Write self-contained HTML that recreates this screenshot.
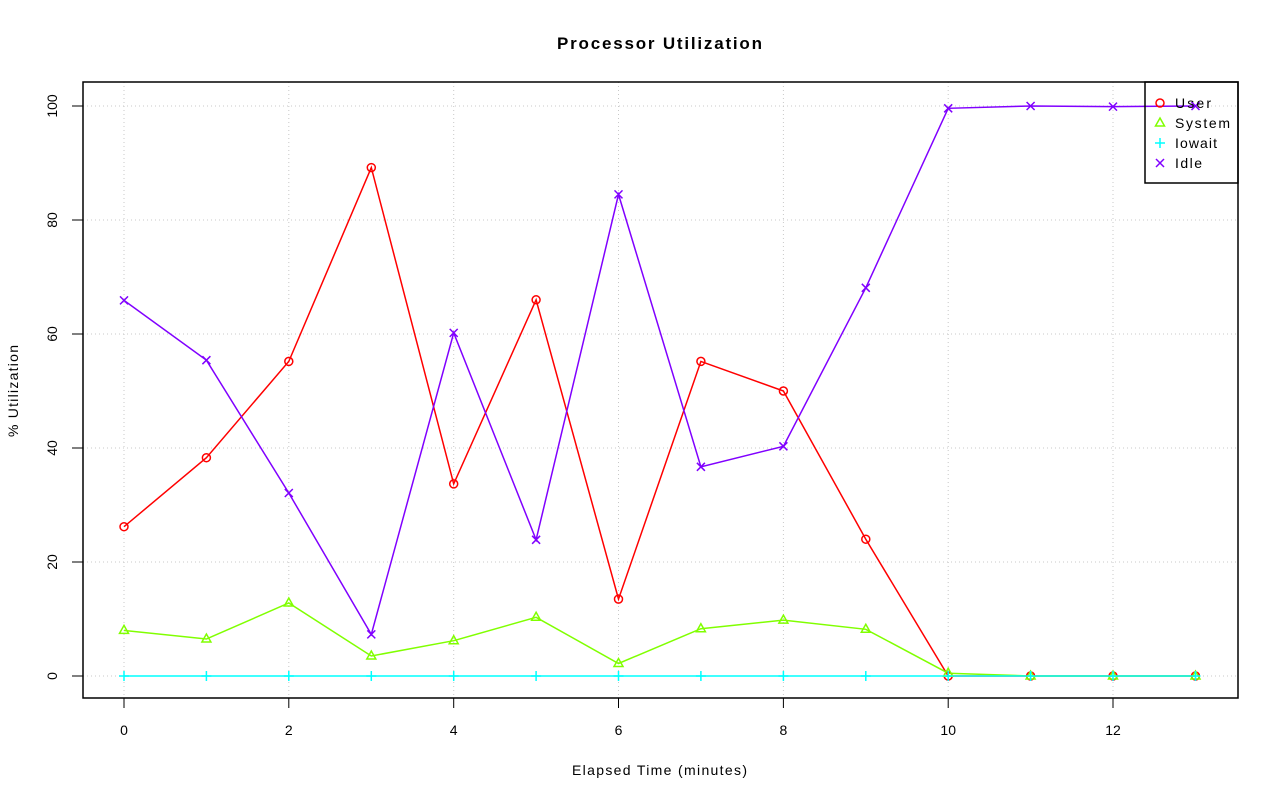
<!DOCTYPE html>
<html><head><meta charset="utf-8"><style>body{margin:0;background:#fff}svg{display:block}text{font-family:"Liberation Sans",sans-serif}</style></head>
<body>
<svg width="1280" height="801" viewBox="0 0 1280 801" xmlns="http://www.w3.org/2000/svg">
<defs>
<circle id="c" r="4" fill="none" stroke="#ff0000" stroke-width="1.5"/>
<path id="t" d="M0,-5 L4.5,3 L-4.5,3Z" fill="none" stroke="#80ff00" stroke-width="1.5"/>
<path id="p" d="M-5,0H5M0,-5V5" stroke="#00ffff" stroke-width="1.5"/>
<path id="x" d="M-4,-4L4,4M-4,4L4,-4" stroke="#8000ff" stroke-width="1.5"/>
</defs>
<text x="557" y="49" font-size="17" font-weight="bold" textLength="205" lengthAdjust="spacing">Processor Utilization</text>
<g stroke="#c8c8c8" stroke-dasharray="1,3" stroke-width="1">
<path d="M124,82V698M288.8,82V698M453.7,82V698M618.5,82V698M783.4,82V698M948.2,82V698M1113,82V698"/>
<path d="M83,676H1238M83,562H1238M83,448H1238M83,334H1238M83,220H1238M83,106H1238"/>
</g>
<g stroke="#000"><path d="M124,698V708M288.8,698V708M453.7,698V708M618.5,698V708M783.4,698V708M948.2,698V708M1113,698V708"/>
<path d="M83,676H72M83,562H72M83,448H72M83,334H72M83,220H72M83,106H72"/></g>
<g font-size="14" text-anchor="middle">
<text x="124" y="735">0</text><text x="288.8" y="735">2</text><text x="453.7" y="735">4</text><text x="618.5" y="735">6</text><text x="783.4" y="735">8</text><text x="948.2" y="735">10</text><text x="1113" y="735">12</text>
<text transform="translate(57,676) rotate(-90)">0</text>
<text transform="translate(57,562) rotate(-90)">20</text>
<text transform="translate(57,448) rotate(-90)">40</text>
<text transform="translate(57,334) rotate(-90)">60</text>
<text transform="translate(57,220) rotate(-90)">80</text>
<text transform="translate(57,106) rotate(-90)">100</text>
</g>
<g font-size="14">
<text x="572" y="775" textLength="175" lengthAdjust="spacing">Elapsed Time (minutes)</text>
<text transform="translate(18,437) rotate(-90)" textLength="92" lengthAdjust="spacing">% Utilization</text>
</g>
<g fill="none" stroke-width="1.5">
<polyline stroke="#ff0000" points="124,526.7 206.4,457.7 288.8,361.4 371.3,167.6 453.7,483.9 536.1,299.8 618.5,599.1 700.9,361.4 783.4,391 865.8,539.2 948.2,676 1030.6,676 1113,676 1195.5,676"/>
<polyline stroke="#80ff00" points="124,630.4 206.4,639 288.8,603 371.3,656 453.7,640.7 536.1,617.3 618.5,663.5 700.9,628.7 783.4,620.1 865.8,629.3 948.2,673.2 1030.6,676 1113,676 1195.5,676"/>
<polyline stroke="#00ffff" points="124,676 1195.5,676"/>
<polyline stroke="#8000ff" points="124,300.4 206.4,360.2 288.8,493 371.3,634.4 453.7,332.9 536.1,539.8 618.5,194.4 700.9,466.8 783.4,446.3 865.8,287.8 948.2,108.3 1030.6,106 1113,106.6 1195.5,106"/>
</g>
<g>
<use href="#c" x="124" y="526.7"/><use href="#c" x="206.4" y="457.7"/><use href="#c" x="288.8" y="361.4"/><use href="#c" x="371.3" y="167.6"/><use href="#c" x="453.7" y="483.9"/><use href="#c" x="536.1" y="299.8"/><use href="#c" x="618.5" y="599.1"/><use href="#c" x="700.9" y="361.4"/><use href="#c" x="783.4" y="391"/><use href="#c" x="865.8" y="539.2"/><use href="#c" x="948.2" y="676"/><use href="#c" x="1030.6" y="676"/><use href="#c" x="1113" y="676"/><use href="#c" x="1195.5" y="676"/>
<use href="#t" x="124" y="630.4"/><use href="#t" x="206.4" y="639"/><use href="#t" x="288.8" y="603"/><use href="#t" x="371.3" y="656"/><use href="#t" x="453.7" y="640.7"/><use href="#t" x="536.1" y="617.3"/><use href="#t" x="618.5" y="663.5"/><use href="#t" x="700.9" y="628.7"/><use href="#t" x="783.4" y="620.1"/><use href="#t" x="865.8" y="629.3"/><use href="#t" x="948.2" y="673.2"/><use href="#t" x="1030.6" y="676"/><use href="#t" x="1113" y="676"/><use href="#t" x="1195.5" y="676"/>
<use href="#p" x="124" y="676"/><use href="#p" x="206.4" y="676"/><use href="#p" x="288.8" y="676"/><use href="#p" x="371.3" y="676"/><use href="#p" x="453.7" y="676"/><use href="#p" x="536.1" y="676"/><use href="#p" x="618.5" y="676"/><use href="#p" x="700.9" y="676"/><use href="#p" x="783.4" y="676"/><use href="#p" x="865.8" y="676"/><use href="#p" x="948.2" y="676"/><use href="#p" x="1030.6" y="676"/><use href="#p" x="1113" y="676"/><use href="#p" x="1195.5" y="676"/>
<use href="#x" x="124" y="300.4"/><use href="#x" x="206.4" y="360.2"/><use href="#x" x="288.8" y="493"/><use href="#x" x="371.3" y="634.4"/><use href="#x" x="453.7" y="332.9"/><use href="#x" x="536.1" y="539.8"/><use href="#x" x="618.5" y="194.4"/><use href="#x" x="700.9" y="466.8"/><use href="#x" x="783.4" y="446.3"/><use href="#x" x="865.8" y="287.8"/><use href="#x" x="948.2" y="108.3"/><use href="#x" x="1030.6" y="106"/><use href="#x" x="1113" y="106.6"/><use href="#x" x="1195.5" y="106"/>
</g>
<rect x="83" y="82" width="1155" height="616" fill="none" stroke="#000" stroke-width="1.5"/>
<rect x="1145" y="82" width="93" height="101" fill="none" stroke="#000" stroke-width="1.5"/>
<use href="#c" x="1160" y="103"/><use href="#t" x="1160" y="123"/><use href="#p" x="1160" y="143"/><use href="#x" x="1160" y="163"/>
<g font-size="14"><text x="1175" y="108" textLength="36" lengthAdjust="spacing">User</text><text x="1175" y="128" textLength="55" lengthAdjust="spacing">System</text><text x="1175" y="148" textLength="42" lengthAdjust="spacing">Iowait</text><text x="1175" y="168" textLength="27" lengthAdjust="spacing">Idle</text></g>
</svg>
</body></html>
